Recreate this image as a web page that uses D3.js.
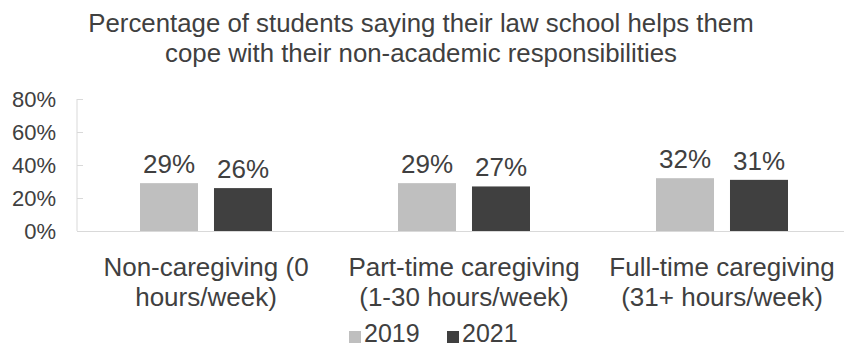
<!DOCTYPE html>
<html>
<head>
<meta charset="utf-8">
<script src="https://cdn.jsdelivr.net/npm/d3@7"></script>
<style>
  body { margin: 0; background: #fff; }
  svg text { font-family: "Liberation Sans", Arial, sans-serif; fill: #404040; }
</style>
</head>
<body>
<svg id="chart"></svg>
<script>
// chart data
const categories = [
  ["Non-caregiving (0", "hours/week)"],
  ["Part-time caregiving", "(1-30 hours/week)"],
  ["Full-time caregiving", "(31+ hours/week)"]
];
const seriesNames = ["2019", "2021"];
const values2019 = [0.29, 0.29, 0.32];
const values2021 = [0.26, 0.27, 0.31];
const yTicks = [0, 0.2, 0.4, 0.6, 0.8];
const titleLines = [
  "Percentage of students saying their law school helps them",
  "cope with their non-academic responsibilities"
];

const width = 844, height = 348;
const margin = {top: 99, right: -7, bottom: 117, left: 77};
const innerW = width - margin.left - margin.right;
const innerH = height - margin.top - margin.bottom;

const colors = d3.scaleOrdinal().domain(seriesNames).range(["#bfbfbf", "#404040"]);

const svg = d3.select("#chart")
  .attr("width", width)
  .attr("height", height);

const chart = svg.append("g")
  .attr("transform", `translate(${margin.left},${margin.top})`);

const xScale = d3.scaleBand()
  .domain(d3.range(categories.length))
  .range([0, innerW]);

const xSub = d3.scaleBand()
  .domain(seriesNames)
  .range([63, xScale.bandwidth() - 63])
  .paddingInner(0.216);

const yScale = d3.scaleLinear()
  .domain([0, 0.8])
  .range([innerH, 0]);

// y axis
const yAxisG = chart.append("g")
  .call(d3.axisLeft(yScale).tickValues(yTicks).tickSize(-6).tickFormat(d3.format(".0%")).tickPadding(21));
yAxisG.select(".domain").attr("stroke", "#d9d9d9").attr("d", `M0,0V${innerH}`);
yAxisG.selectAll(".tick line").attr("stroke", "#d9d9d9");
yAxisG.selectAll(".tick text")
  .style("font-size", "22px")
  .attr("fill", "#404040");

// x axis line
const xAxisG = chart.append("g")
  .attr("transform", `translate(0,${innerH})`)
  .call(d3.axisBottom(xScale).tickSize(0).tickFormat(""));
xAxisG.select(".domain").attr("stroke", "#d9d9d9");

// category labels
const catLabels = chart.append("g").selectAll("text")
  .data(categories)
  .join("text")
  .attr("x", (d, i) => xScale(i) + xScale.bandwidth() / 2)
  .attr("y", innerH + 45)
  .attr("text-anchor", "middle")
  .style("font-size", "26px");
catLabels.selectAll("tspan")
  .data(d => d)
  .join("tspan")
  .attr("x", function() { return this.parentNode.getAttribute("x"); })
  .attr("dy", (d, i) => i === 0 ? 0 : 30)
  .text(d => d);

// bars
const rows = categories.map((c, i) => ({i: i, vals: [values2019[i], values2021[i]]}));
const groups = chart.append("g").selectAll("g")
  .data(rows)
  .join("g")
  .attr("transform", d => `translate(${xScale(d.i)},0)`);

const cells = d => seriesNames.map((k, j) => ({key: k, value: d.vals[j]}));

groups.selectAll("rect")
  .data(cells)
  .join("rect")
  .attr("x", d => xSub(d.key))
  .attr("y", d => yScale(d.value))
  .attr("width", xSub.bandwidth())
  .attr("height", d => innerH - yScale(d.value))
  .attr("fill", d => colors(d.key));

groups.selectAll("text.val")
  .data(cells)
  .join("text")
  .attr("class", "val")
  .attr("x", d => xSub(d.key) + xSub.bandwidth() / 2)
  .attr("y", d => yScale(d.value) - 10)
  .attr("text-anchor", "middle")
  .style("font-size", "26px")
  .text(d => d3.format(".0%")(d.value));

// title
svg.append("g").selectAll("text")
  .data(titleLines)
  .join("text")
  .attr("x", 421)
  .attr("y", (d, i) => 32 + i * 30)
  .attr("text-anchor", "middle")
  .style("font-size", "25.8px")
  .text(d => d);

// legend
const legend = svg.append("g").attr("transform", "translate(349,331)");
const legItems = legend.selectAll("g")
  .data(seriesNames)
  .join("g")
  .attr("transform", (d, i) => `translate(${i * 98},0)`);
legItems.append("rect")
  .attr("width", 12)
  .attr("height", 12)
  .attr("fill", d => colors(d));
legItems.append("text")
  .attr("x", 15)
  .attr("y", 11)
  .style("font-size", "25px")
  .text(d => d);
</script>
</body>
</html>
